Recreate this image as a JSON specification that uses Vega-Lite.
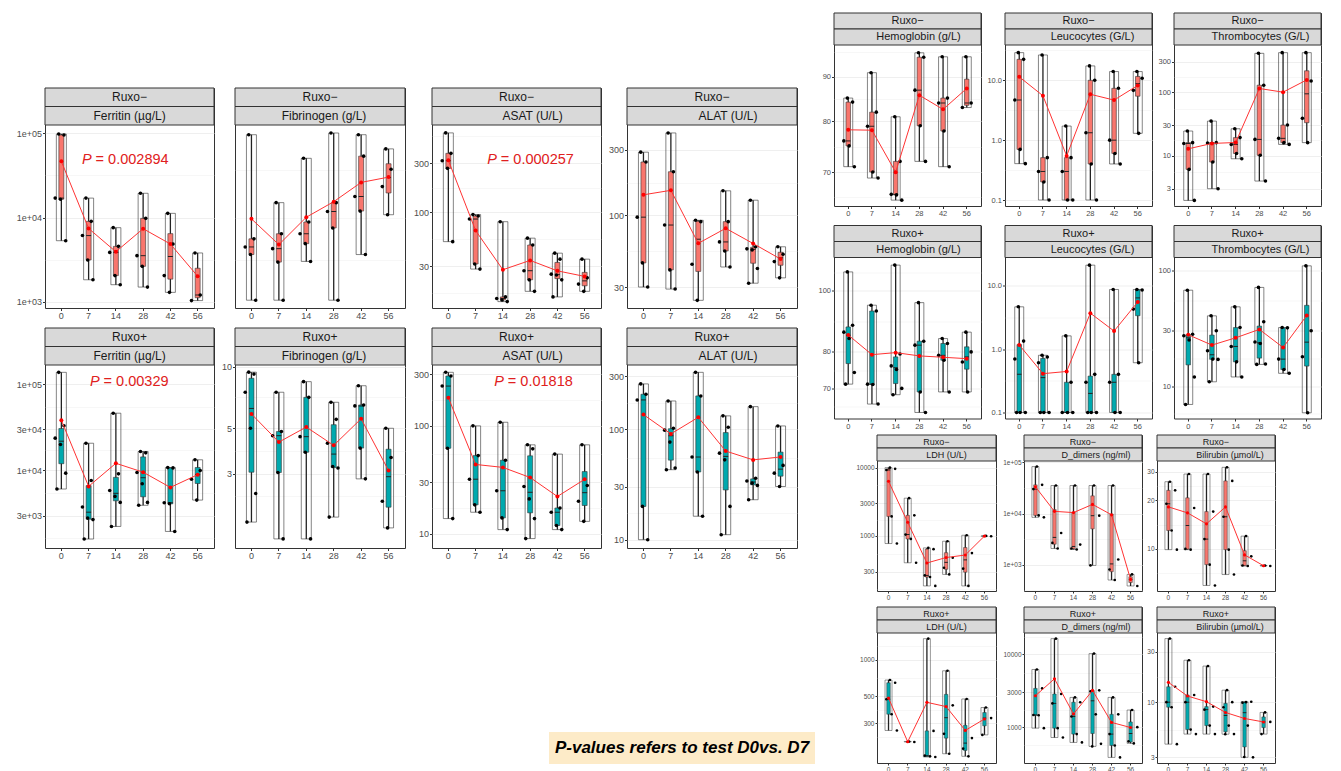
{
"$schema":"https://vega.github.io/schema/vega-lite/v6.json",
"padding":{"left":0,"top":12,"right":0,"bottom":0},
"background":"white",
"config":{
"font":"Liberation Sans",
"view":{"stroke":"#333333","strokeWidth":1},
"axis":{"gridColor":"#EBEBEB","gridWidth":0.8,"domain":false,"tickColor":"#333333","tickSize":2.5,"labelColor":"#4D4D4D","labelFontSize":9,"labelPadding":1,"bandPosition":0.5},
"axisX":{"labelAngle":0},
"rule":{"color":"#222222","strokeWidth":1.3},
"tick":{"color":"#222222","thickness":1},
"circle":{"color":"#000000","size":13,"opacity":1},
"point":{"filled":true,"color":"#FF0000","size":16,"opacity":1},
"line":{"color":"#FF3333","strokeWidth":1},
"rect":{"color":"#D9D9D9","stroke":"#333333","strokeWidth":1},
"text":{"color":"#1A1A1A","fontSize":12}
},
"datasets":{
"a1":[{"d":0,"v":98000},{"d":0,"v":95500},{"d":0,"v":17000},{"d":0,"v":16500},{"d":0,"v":5300},{"d":7,"v":17000},{"d":7,"v":9000},{"d":7,"v":6100},{"d":7,"v":3130},{"d":7,"v":1820},{"d":14,"v":7570},{"d":14,"v":4540},{"d":14,"v":3850},{"d":14,"v":2040},{"d":14,"v":1590},{"d":28,"v":19400},{"d":28,"v":9770},{"d":28,"v":3520},{"d":28,"v":2630},{"d":28,"v":1490},{"d":42,"v":11200},{"d":42,"v":4840},{"d":42,"v":2040},{"d":42,"v":1290},{"d":56,"v":3790},{"d":56,"v":1200},{"d":56,"v":1030}],
"a2":[{"d":0,"v":5.43},{"d":0,"v":2.0},{"d":0,"v":1.85},{"d":0,"v":1.72},{"d":0,"v":1.11},{"d":7,"v":2.83},{"d":7,"v":2.1},{"d":7,"v":1.82},{"d":7,"v":1.6},{"d":7,"v":1.11},{"d":14,"v":4.33},{"d":14,"v":2.35},{"d":14,"v":2.1},{"d":14,"v":1.91},{"d":14,"v":1.61},{"d":28,"v":5.52},{"d":28,"v":2.83},{"d":28,"v":2.6},{"d":28,"v":2.22},{"d":28,"v":1.11},{"d":42,"v":5.43},{"d":42,"v":4.42},{"d":42,"v":3.0},{"d":42,"v":2.61},{"d":42,"v":1.72},{"d":56,"v":4.74},{"d":56,"v":3.9},{"d":56,"v":3.3},{"d":56,"v":2.52}],
"a3":[{"d":0,"v":593},{"d":0,"v":375},{"d":0,"v":318},{"d":0,"v":268},{"d":0,"v":51.8},{"d":7,"v":95},{"d":7,"v":92},{"d":7,"v":86},{"d":7,"v":31.4},{"d":7,"v":28},{"d":14,"v":81},{"d":14,"v":15},{"d":14,"v":14.5},{"d":14,"v":14},{"d":14,"v":13.5},{"d":28,"v":56},{"d":28,"v":48},{"d":28,"v":27},{"d":28,"v":22},{"d":28,"v":17},{"d":42,"v":40},{"d":42,"v":35},{"d":42,"v":25},{"d":42,"v":24.5},{"d":42,"v":22},{"d":42,"v":15},{"d":56,"v":35},{"d":56,"v":23},{"d":56,"v":20},{"d":56,"v":17}],
"a4":[{"d":0,"v":289},{"d":0,"v":245},{"d":0,"v":97},{"d":0,"v":45},{"d":0,"v":30},{"d":7,"v":399},{"d":7,"v":208},{"d":7,"v":85},{"d":7,"v":40},{"d":7,"v":29},{"d":14,"v":92},{"d":14,"v":90},{"d":14,"v":44},{"d":14,"v":24},{"d":28,"v":151},{"d":28,"v":90},{"d":28,"v":64},{"d":28,"v":55},{"d":28,"v":42},{"d":42,"v":129},{"d":42,"v":59},{"d":42,"v":57},{"d":42,"v":56},{"d":42,"v":41},{"d":42,"v":32},{"d":56,"v":59},{"d":56,"v":52},{"d":56,"v":46},{"d":56,"v":35}],
"b1":[{"d":0,"v":137700},{"d":0,"v":33000},{"d":0,"v":23700},{"d":0,"v":20000},{"d":0,"v":9300},{"d":0,"v":6090},{"d":7,"v":20700},{"d":7,"v":7650},{"d":7,"v":3760},{"d":7,"v":2800},{"d":7,"v":2690},{"d":7,"v":1600},{"d":14,"v":46200},{"d":14,"v":9140},{"d":14,"v":5860},{"d":14,"v":5000},{"d":14,"v":4260},{"d":14,"v":2240},{"d":28,"v":16600},{"d":28,"v":16000},{"d":28,"v":9480},{"d":28,"v":7000},{"d":28,"v":4260},{"d":28,"v":3940},{"d":42,"v":10800},{"d":42,"v":10700},{"d":42,"v":4220},{"d":42,"v":4100},{"d":42,"v":1960},{"d":56,"v":13300},{"d":56,"v":10000},{"d":56,"v":7900},{"d":56,"v":4530}],
"b2":[{"d":0,"v":9.4},{"d":0,"v":9.2},{"d":0,"v":7.5},{"d":0,"v":5.0},{"d":0,"v":2.4},{"d":0,"v":1.74},{"d":7,"v":7.5},{"d":7,"v":4.82},{"d":7,"v":4.6},{"d":7,"v":3.04},{"d":7,"v":1.44},{"d":14,"v":8.45},{"d":14,"v":7.08},{"d":14,"v":4.55},{"d":14,"v":3.82},{"d":14,"v":1.44},{"d":28,"v":6.7},{"d":28,"v":5.53},{"d":28,"v":4.23},{"d":28,"v":3.25},{"d":28,"v":3.2},{"d":28,"v":1.84},{"d":42,"v":8.07},{"d":42,"v":6.5},{"d":42,"v":6.43},{"d":42,"v":4.0},{"d":42,"v":2.83},{"d":56,"v":5.0},{"d":56,"v":3.6},{"d":56,"v":2.2},{"d":56,"v":1.63}],
"b3":[{"d":0,"v":314},{"d":0,"v":290},{"d":0,"v":234},{"d":0,"v":62},{"d":0,"v":13.8},{"d":7,"v":100},{"d":7,"v":53},{"d":7,"v":32},{"d":7,"v":18.5},{"d":7,"v":15.8},{"d":14,"v":108},{"d":14,"v":48},{"d":14,"v":25},{"d":14,"v":14},{"d":14,"v":10.9},{"d":28,"v":66.7},{"d":28,"v":61.2},{"d":28,"v":27.4},{"d":28,"v":21},{"d":28,"v":13.8},{"d":28,"v":9},{"d":42,"v":54.7},{"d":42,"v":17.3},{"d":42,"v":15.8},{"d":42,"v":11.9},{"d":42,"v":10.9},{"d":56,"v":66.7},{"d":56,"v":28},{"d":56,"v":20},{"d":56,"v":13}],
"b4":[{"d":0,"v":257},{"d":0,"v":207},{"d":0,"v":184},{"d":0,"v":20},{"d":0,"v":10},{"d":7,"v":180},{"d":7,"v":102},{"d":7,"v":98},{"d":7,"v":76.4},{"d":7,"v":44.5},{"d":7,"v":43},{"d":14,"v":327},{"d":14,"v":200},{"d":14,"v":56},{"d":14,"v":41},{"d":14,"v":16.3},{"d":28,"v":132},{"d":28,"v":104},{"d":28,"v":60.7},{"d":28,"v":52.8},{"d":28,"v":20},{"d":28,"v":11.1},{"d":42,"v":160},{"d":42,"v":36},{"d":42,"v":34},{"d":42,"v":32.5},{"d":42,"v":31},{"d":42,"v":23},{"d":56,"v":107},{"d":56,"v":47},{"d":56,"v":40},{"d":56,"v":30.3}],
"c1":[{"d":0,"v":85.1},{"d":0,"v":84.2},{"d":0,"v":76},{"d":0,"v":75},{"d":0,"v":71},{"d":7,"v":91},{"d":7,"v":82},{"d":7,"v":79},{"d":7,"v":70},{"d":7,"v":68.9},{"d":14,"v":81},{"d":14,"v":72},{"d":14,"v":66},{"d":14,"v":65.9},{"d":14,"v":65},{"d":28,"v":95.9},{"d":28,"v":94.8},{"d":28,"v":86.9},{"d":28,"v":79.1},{"d":28,"v":72},{"d":42,"v":94.9},{"d":42,"v":85.1},{"d":42,"v":84},{"d":42,"v":78},{"d":42,"v":71},{"d":56,"v":94.9},{"d":56,"v":84},{"d":56,"v":83}],
"c2":[{"d":0,"v":29},{"d":0,"v":22.4},{"d":0,"v":4.69},{"d":0,"v":0.7},{"d":0,"v":0.405},{"d":7,"v":26.5},{"d":7,"v":0.51},{"d":7,"v":0.3},{"d":7,"v":0.2},{"d":7,"v":0.1},{"d":14,"v":1.72},{"d":14,"v":0.51},{"d":14,"v":0.3},{"d":14,"v":0.1},{"d":14,"v":0.1},{"d":28,"v":17.4},{"d":28,"v":10},{"d":28,"v":1.33},{"d":28,"v":0.4},{"d":28,"v":0.1},{"d":42,"v":14},{"d":42,"v":7.35},{"d":42,"v":1.0},{"d":42,"v":0.6},{"d":42,"v":0.4},{"d":56,"v":14},{"d":56,"v":10.8},{"d":56,"v":6.8},{"d":56,"v":1.3}],
"c3":[{"d":0,"v":24.4},{"d":0,"v":16},{"d":0,"v":15.5},{"d":0,"v":6.05},{"d":0,"v":1.96},{"d":7,"v":35},{"d":7,"v":16},{"d":7,"v":15.8},{"d":7,"v":7.9},{"d":7,"v":3},{"d":14,"v":26.5},{"d":14,"v":19.2},{"d":14,"v":15},{"d":14,"v":10.8},{"d":14,"v":8.9},{"d":28,"v":411},{"d":28,"v":129},{"d":28,"v":18},{"d":28,"v":10.1},{"d":28,"v":3.96},{"d":42,"v":421},{"d":42,"v":30.3},{"d":42,"v":18.7},{"d":42,"v":16},{"d":42,"v":15},{"d":56,"v":421},{"d":56,"v":150},{"d":56,"v":38.7},{"d":56,"v":16}],
"d1":[{"d":0,"v":107.2},{"d":0,"v":88.2},{"d":0,"v":86},{"d":0,"v":84},{"d":0,"v":74.2},{"d":0,"v":71.1},{"d":7,"v":94.9},{"d":7,"v":92.9},{"d":7,"v":71.1},{"d":7,"v":71},{"d":7,"v":66.1},{"d":14,"v":109.9},{"d":14,"v":79.4},{"d":14,"v":76},{"d":14,"v":75},{"d":14,"v":70},{"d":14,"v":68.4},{"d":28,"v":95.8},{"d":28,"v":83.2},{"d":28,"v":82},{"d":28,"v":69.1},{"d":28,"v":64.1},{"d":42,"v":84},{"d":42,"v":82.5},{"d":42,"v":79},{"d":42,"v":77.6},{"d":42,"v":69.1},{"d":56,"v":86},{"d":56,"v":80},{"d":56,"v":77.1},{"d":56,"v":69.1}],
"d2":[{"d":0,"v":4.66},{"d":0,"v":1.34},{"d":0,"v":0.7},{"d":0,"v":0.1},{"d":0,"v":0.1},{"d":0,"v":0.1},{"d":7,"v":0.8},{"d":7,"v":0.75},{"d":7,"v":0.61},{"d":7,"v":0.1},{"d":7,"v":0.1},{"d":7,"v":0.1},{"d":14,"v":1.62},{"d":14,"v":0.3},{"d":14,"v":0.1},{"d":14,"v":0.1},{"d":14,"v":0.1},{"d":28,"v":21.2},{"d":28,"v":0.4},{"d":28,"v":0.3},{"d":28,"v":0.1},{"d":28,"v":0.1},{"d":28,"v":0.1},{"d":42,"v":8.75},{"d":42,"v":0.4},{"d":42,"v":0.3},{"d":42,"v":0.1},{"d":42,"v":0.1},{"d":56,"v":8.75},{"d":56,"v":8.6},{"d":56,"v":4.29},{"d":56,"v":0.61}],
"d3":[{"d":0,"v":67.2},{"d":0,"v":28},{"d":0,"v":27.2},{"d":0,"v":25},{"d":0,"v":12},{"d":0,"v":6.95},{"d":7,"v":40.4},{"d":7,"v":30},{"d":7,"v":20.2},{"d":7,"v":17.1},{"d":7,"v":17},{"d":7,"v":10.9},{"d":14,"v":48.3},{"d":14,"v":32},{"d":14,"v":22},{"d":14,"v":16.2},{"d":14,"v":12},{"d":28,"v":71},{"d":28,"v":35.9},{"d":28,"v":24},{"d":28,"v":23.3},{"d":28,"v":15.5},{"d":28,"v":15.4},{"d":42,"v":32},{"d":42,"v":31.8},{"d":42,"v":17.1},{"d":42,"v":13.9},{"d":42,"v":12.9},{"d":56,"v":109},{"d":56,"v":30},{"d":56,"v":17.9},{"d":56,"v":5.89}],
"e1":[{"d":0,"v":10000},{"d":0,"v":9600},{"d":0,"v":9250},{"d":0,"v":1930},{"d":0,"v":773},{"d":7,"v":3570},{"d":7,"v":2000},{"d":7,"v":1045},{"d":7,"v":903},{"d":7,"v":404},{"d":14,"v":668},{"d":14,"v":640},{"d":14,"v":264},{"d":14,"v":250},{"d":14,"v":185},{"d":28,"v":836},{"d":28,"v":478},{"d":28,"v":342},{"d":28,"v":273},{"d":42,"v":1023},{"d":42,"v":560},{"d":42,"v":331},{"d":42,"v":185},{"d":56,"v":1000},{"d":56,"v":990}],
"e2":[{"d":0,"v":82400},{"d":0,"v":36300},{"d":0,"v":30000},{"d":0,"v":9200},{"d":0,"v":8420},{"d":7,"v":35200},{"d":7,"v":4180},{"d":7,"v":2670},{"d":7,"v":2080},{"d":14,"v":35200},{"d":14,"v":2480},{"d":14,"v":2080},{"d":14,"v":1990},{"d":28,"v":35200},{"d":28,"v":9080},{"d":28,"v":971},{"d":42,"v":35200},{"d":42,"v":1270},{"d":42,"v":811},{"d":42,"v":504},{"d":56,"v":649},{"d":56,"v":386}],
"e3":[{"d":0,"v":26},{"d":0,"v":23},{"d":0,"v":19},{"d":0,"v":13},{"d":0,"v":9.9},{"d":7,"v":29},{"d":7,"v":17.9},{"d":7,"v":10},{"d":7,"v":9.9},{"d":14,"v":29},{"d":14,"v":17},{"d":14,"v":11.5},{"d":14,"v":8},{"d":14,"v":5.95},{"d":28,"v":31.9},{"d":28,"v":26.3},{"d":28,"v":15.8},{"d":28,"v":9.9},{"d":28,"v":6.95},{"d":42,"v":12},{"d":42,"v":9},{"d":42,"v":7.9},{"d":42,"v":7.85},{"d":56,"v":7.9},{"d":56,"v":7.85}],
"f1":[{"d":0,"v":678},{"d":0,"v":644},{"d":0,"v":471},{"d":0,"v":355},{"d":0,"v":261},{"d":7,"v":212},{"d":7,"v":210},{"d":14,"v":1484},{"d":14,"v":259},{"d":14,"v":162},{"d":14,"v":160},{"d":14,"v":158},{"d":28,"v":808},{"d":28,"v":420},{"d":28,"v":245},{"d":28,"v":168},{"d":42,"v":474},{"d":42,"v":226},{"d":42,"v":185},{"d":42,"v":160},{"d":56,"v":403},{"d":56,"v":330},{"d":56,"v":240}],
"f2":[{"d":0,"v":6180},{"d":0,"v":3400},{"d":0,"v":1470},{"d":0,"v":1460},{"d":0,"v":969},{"d":7,"v":16360},{"d":7,"v":2850},{"d":7,"v":2120},{"d":7,"v":969},{"d":7,"v":722},{"d":14,"v":2560},{"d":14,"v":2200},{"d":14,"v":1400},{"d":14,"v":804},{"d":14,"v":618},{"d":28,"v":10200},{"d":28,"v":3200},{"d":28,"v":3100},{"d":28,"v":1500},{"d":28,"v":592},{"d":28,"v":545},{"d":42,"v":2560},{"d":42,"v":1500},{"d":42,"v":804},{"d":42,"v":562},{"d":42,"v":385},{"d":56,"v":1720},{"d":56,"v":1000},{"d":56,"v":638},{"d":56,"v":600}],
"f3":[{"d":0,"v":40.1},{"d":0,"v":14},{"d":0,"v":10},{"d":0,"v":8.96},{"d":0,"v":4},{"d":7,"v":25},{"d":7,"v":11.7},{"d":7,"v":10},{"d":7,"v":5.5},{"d":7,"v":4.98},{"d":14,"v":22},{"d":14,"v":9.08},{"d":14,"v":8.5},{"d":14,"v":6},{"d":14,"v":4.98},{"d":28,"v":13},{"d":28,"v":10},{"d":28,"v":8.96},{"d":28,"v":6},{"d":28,"v":4.98},{"d":28,"v":4.97},{"d":42,"v":10},{"d":42,"v":10.1},{"d":42,"v":9.9},{"d":42,"v":6},{"d":42,"v":3},{"d":42,"v":3.02},{"d":56,"v":8},{"d":56,"v":6.5},{"d":56,"v":4.98}]
},
"spacing":0,
"hconcat":[
{"spacing":0,"vconcat":[
{"width":1,"height":73.5,"data":{"values":[]},"mark":"point","view":{"stroke":null}},
{"columns":8,"align":"each","bounds":"flush","spacing":{"row":20,"column":0},"concat":[
{"width":45,"height":1,"data":{"values":[]},"mark":"point","view":{"stroke":null}},
{"width":169,"height":220,"resolve":{"scale":{"y":"independent"}},"layer":[
{"data":{"name":"a1"},"encoding":{"x":{"field":"d","type":"ordinal","title":null,"scale":{"domain":[0,7,14,28,42,56],"paddingInner":0,"paddingOuter":0.1}}},"layer":[
{"mark":{"type":"bar","size":10,"fill":"transparent","stroke":"#333333","strokeWidth":0.6},"encoding":{"y":{"aggregate":"min","field":"v","type":"quantitative","title":null,"scale":{"type":"log","domain":[841,125600],"nice":false,"range":[220,37]},"axis":{"values":[1000,3162,10000,31623,100000],"labelExpr":"replace(format(datum.value,'.0e'),'e+','e+0')","gridWidth":{"condition":{"test":"datum.value!=toNumber(format(datum.value,'.2r'))","value":0.4},"value":0.8},"tickOpacity":{"condition":{"test":"datum.value!=toNumber(format(datum.value,'.2r'))","value":0},"value":1},"labelOpacity":{"condition":{"test":"datum.value!=toNumber(format(datum.value,'.2r'))","value":0},"value":1},"labelOverlap":false}},"y2":{"aggregate":"max","field":"v"}}},
{"mark":"rule","encoding":{"y":{"aggregate":"min","field":"v","type":"quantitative","title":null},"y2":{"aggregate":"max","field":"v"}}},
{"mark":{"type":"bar","size":5,"fill":"#F8766D","stroke":"#333333","strokeWidth":0.6},"encoding":{"y":{"aggregate":"q1","field":"v","type":"quantitative","title":null},"y2":{"aggregate":"q3","field":"v"}}},
{"mark":{"type":"tick","size":5},"encoding":{"y":{"aggregate":"median","field":"v","type":"quantitative","title":null}}},
{"transform":[{"window":[{"op":"row_number","as":"i"}],"groupby":["d"]}],"mark":"circle","encoding":{"xOffset":{"field":"i","type":"nominal","scale":{"domain":[3,6,1,4,7,2,5,8],"range":[6.6,20.6]}},"y":{"field":"v","type":"quantitative","title":null}}},
{"mark":"line","encoding":{"y":{"aggregate":"mean","field":"v","type":"quantitative","title":null}}},
{"mark":"point","encoding":{"y":{"aggregate":"mean","field":"v","type":"quantitative","title":null}}},
{"data":{"values":[{"d":7,"v":48000}]},"mark":{"type":"text","text":"P","fontStyle":"italic","align":"right","dx":3,"fontSize":14.5,"color":"#E02020"},"encoding":{"y":{"field":"v","type":"quantitative","title":null}}},
{"data":{"values":[{"d":7,"v":48000}]},"mark":{"type":"text","text":"= 0.002894","align":"left","dx":7,"fontSize":14.5,"color":"#E02020"},"encoding":{"y":{"field":"v","type":"quantitative","title":null}}}
]},
{"data":{"values":[{"r":1,"s":"Ruxo−"},{"r":2,"s":"Ferritin (µg/L)"}]},"encoding":{"y":{"field":"r","type":"ordinal","axis":null,"scale":{"range":[0,37],"paddingInner":0,"paddingOuter":0}}},"layer":[{"mark":"rect"},{"mark":"text","encoding":{"text":{"field":"s"}}}]}
]},
{"width":21,"height":1,"data":{"values":[]},"mark":"point","view":{"stroke":null}},
{"width":170,"height":220,"resolve":{"scale":{"y":"independent"}},"layer":[
{"data":{"name":"a2"},"encoding":{"x":{"field":"d","type":"ordinal","title":null,"scale":{"domain":[0,7,14,28,42,56],"paddingInner":0,"paddingOuter":0.1}}},"layer":[
{"mark":{"type":"bar","size":10,"fill":"transparent","stroke":"#333333","strokeWidth":0.6},"encoding":{"y":{"aggregate":"min","field":"v","type":"quantitative","title":null,"scale":{"type":"log","domain":[1.03,5.96],"nice":false,"range":[220,37]},"axis":{"values":[1.633,2,2.449,3,3.873,5],"format":"d","gridWidth":{"condition":{"test":"datum.value!=toNumber(format(datum.value,'.2r'))","value":0.4},"value":0.8},"tickOpacity":{"condition":{"test":"datum.value!=toNumber(format(datum.value,'.2r'))","value":0},"value":1},"labelOpacity":{"condition":{"test":"datum.value!=toNumber(format(datum.value,'.2r'))","value":0},"value":1},"labelOverlap":false}},"y2":{"aggregate":"max","field":"v"}}},
{"mark":"rule","encoding":{"y":{"aggregate":"min","field":"v","type":"quantitative","title":null},"y2":{"aggregate":"max","field":"v"}}},
{"mark":{"type":"bar","size":5,"fill":"#F8766D","stroke":"#333333","strokeWidth":0.6},"encoding":{"y":{"aggregate":"q1","field":"v","type":"quantitative","title":null},"y2":{"aggregate":"q3","field":"v"}}},
{"mark":{"type":"tick","size":5},"encoding":{"y":{"aggregate":"median","field":"v","type":"quantitative","title":null}}},
{"transform":[{"window":[{"op":"row_number","as":"i"}],"groupby":["d"]}],"mark":"circle","encoding":{"xOffset":{"field":"i","type":"nominal","scale":{"domain":[3,6,1,4,7,2,5,8],"range":[6.6,20.6]}},"y":{"field":"v","type":"quantitative","title":null}}},
{"mark":"line","encoding":{"y":{"aggregate":"mean","field":"v","type":"quantitative","title":null}}},
{"mark":"point","encoding":{"y":{"aggregate":"mean","field":"v","type":"quantitative","title":null}}}
]},
{"data":{"values":[{"r":1,"s":"Ruxo−"},{"r":2,"s":"Fibrinogen (g/L)"}]},"encoding":{"y":{"field":"r","type":"ordinal","axis":null,"scale":{"range":[0,37],"paddingInner":0,"paddingOuter":0}}},"layer":[{"mark":"rect"},{"transform":[{"filter":"datum.r==1"}],"mark":"text","encoding":{"text":{"field":"s"}}},{"transform":[{"filter":"datum.r==2"}],"mark":{"type":"text","dx":4},"encoding":{"text":{"field":"s"}}}]}
]},
{"width":27,"height":1,"data":{"values":[]},"mark":"point","view":{"stroke":null}},
{"width":169,"height":220,"resolve":{"scale":{"y":"independent"}},"layer":[
{"data":{"name":"a3"},"encoding":{"x":{"field":"d","type":"ordinal","title":null,"scale":{"domain":[0,7,14,28,42,56],"paddingInner":0,"paddingOuter":0.1}}},"layer":[
{"mark":{"type":"bar","size":10,"fill":"transparent","stroke":"#333333","strokeWidth":0.6},"encoding":{"y":{"aggregate":"min","field":"v","type":"quantitative","title":null,"scale":{"type":"log","domain":[11.7,708],"nice":false,"range":[220,37]},"axis":{"values":[16.43,30,54.77,100,173.2,300,547.7],"format":"d","gridWidth":{"condition":{"test":"datum.value!=toNumber(format(datum.value,'.2r'))","value":0.4},"value":0.8},"tickOpacity":{"condition":{"test":"datum.value!=toNumber(format(datum.value,'.2r'))","value":0},"value":1},"labelOpacity":{"condition":{"test":"datum.value!=toNumber(format(datum.value,'.2r'))","value":0},"value":1},"labelOverlap":false}},"y2":{"aggregate":"max","field":"v"}}},
{"mark":"rule","encoding":{"y":{"aggregate":"min","field":"v","type":"quantitative","title":null},"y2":{"aggregate":"max","field":"v"}}},
{"mark":{"type":"bar","size":5,"fill":"#F8766D","stroke":"#333333","strokeWidth":0.6},"encoding":{"y":{"aggregate":"q1","field":"v","type":"quantitative","title":null},"y2":{"aggregate":"q3","field":"v"}}},
{"mark":{"type":"tick","size":5},"encoding":{"y":{"aggregate":"median","field":"v","type":"quantitative","title":null}}},
{"transform":[{"window":[{"op":"row_number","as":"i"}],"groupby":["d"]}],"mark":"circle","encoding":{"xOffset":{"field":"i","type":"nominal","scale":{"domain":[3,6,1,4,7,2,5,8],"range":[6.6,20.6]}},"y":{"field":"v","type":"quantitative","title":null}}},
{"mark":"line","encoding":{"y":{"aggregate":"mean","field":"v","type":"quantitative","title":null}}},
{"mark":"point","encoding":{"y":{"aggregate":"mean","field":"v","type":"quantitative","title":null}}},
{"data":{"values":[{"d":14,"v":326}]},"mark":{"type":"text","text":"P","fontStyle":"italic","align":"right","dx":-6,"fontSize":14.5,"color":"#E02020"},"encoding":{"y":{"field":"v","type":"quantitative","title":null}}},
{"data":{"values":[{"d":14,"v":326}]},"mark":{"type":"text","text":"= 0.000257","align":"left","dx":-2,"fontSize":14.5,"color":"#E02020"},"encoding":{"y":{"field":"v","type":"quantitative","title":null}}}
]},
{"data":{"values":[{"r":1,"s":"Ruxo−"},{"r":2,"s":"ASAT (U/L)"}]},"encoding":{"y":{"field":"r","type":"ordinal","axis":null,"scale":{"range":[0,37],"paddingInner":0,"paddingOuter":0}}},"layer":[{"mark":"rect"},{"transform":[{"filter":"datum.r==1"}],"mark":"text","encoding":{"text":{"field":"s"}}},{"transform":[{"filter":"datum.r==2"}],"mark":{"type":"text","dx":16},"encoding":{"text":{"field":"s"}}}]}
]},
{"width":26,"height":1,"data":{"values":[]},"mark":"point","view":{"stroke":null}},
{"width":170,"height":220,"resolve":{"scale":{"y":"independent"}},"layer":[
{"data":{"name":"a4"},"encoding":{"x":{"field":"d","type":"ordinal","title":null,"scale":{"domain":[0,7,14,28,42,56],"paddingInner":0,"paddingOuter":0.1}}},"layer":[
{"mark":{"type":"bar","size":10,"fill":"transparent","stroke":"#333333","strokeWidth":0.6},"encoding":{"y":{"aggregate":"min","field":"v","type":"quantitative","title":null,"scale":{"type":"log","domain":[21.1,456],"nice":false,"range":[220,37]},"axis":{"values":[30,54.77,100,173.2,300],"format":"d","gridWidth":{"condition":{"test":"datum.value!=toNumber(format(datum.value,'.2r'))","value":0.4},"value":0.8},"tickOpacity":{"condition":{"test":"datum.value!=toNumber(format(datum.value,'.2r'))","value":0},"value":1},"labelOpacity":{"condition":{"test":"datum.value!=toNumber(format(datum.value,'.2r'))","value":0},"value":1},"labelOverlap":false}},"y2":{"aggregate":"max","field":"v"}}},
{"mark":"rule","encoding":{"y":{"aggregate":"min","field":"v","type":"quantitative","title":null},"y2":{"aggregate":"max","field":"v"}}},
{"mark":{"type":"bar","size":5,"fill":"#F8766D","stroke":"#333333","strokeWidth":0.6},"encoding":{"y":{"aggregate":"q1","field":"v","type":"quantitative","title":null},"y2":{"aggregate":"q3","field":"v"}}},
{"mark":{"type":"tick","size":5},"encoding":{"y":{"aggregate":"median","field":"v","type":"quantitative","title":null}}},
{"transform":[{"window":[{"op":"row_number","as":"i"}],"groupby":["d"]}],"mark":"circle","encoding":{"xOffset":{"field":"i","type":"nominal","scale":{"domain":[3,6,1,4,7,2,5,8],"range":[6.6,20.6]}},"y":{"field":"v","type":"quantitative","title":null}}},
{"mark":"line","encoding":{"y":{"aggregate":"mean","field":"v","type":"quantitative","title":null}}},
{"mark":"point","encoding":{"y":{"aggregate":"mean","field":"v","type":"quantitative","title":null}}}
]},
{"data":{"values":[{"r":1,"s":"Ruxo−"},{"r":2,"s":"ALAT (U/L)"}]},"encoding":{"y":{"field":"r","type":"ordinal","axis":null,"scale":{"range":[0,37],"paddingInner":0,"paddingOuter":0}}},"layer":[{"mark":"rect"},{"transform":[{"filter":"datum.r==1"}],"mark":"text","encoding":{"text":{"field":"s"}}},{"transform":[{"filter":"datum.r==2"}],"mark":{"type":"text","dx":16},"encoding":{"text":{"field":"s"}}}]}
]},
{"width":45,"height":1,"data":{"values":[]},"mark":"point","view":{"stroke":null}},
{"width":169,"height":220,"resolve":{"scale":{"y":"independent"}},"layer":[
{"data":{"name":"b1"},"encoding":{"x":{"field":"d","type":"ordinal","title":null,"scale":{"domain":[0,7,14,28,42,56],"paddingInner":0,"paddingOuter":0.1}}},"layer":[
{"mark":{"type":"bar","size":10,"fill":"transparent","stroke":"#333333","strokeWidth":0.6},"encoding":{"y":{"aggregate":"min","field":"v","type":"quantitative","title":null,"scale":{"type":"log","domain":[1259,167500],"nice":false,"range":[220,37]},"axis":{"values":[1643,3000,5477,10000,17320,30000,54772,100000],"labelExpr":"replace(format(datum.value,'.0e'),'e+','e+0')","gridWidth":{"condition":{"test":"datum.value!=toNumber(format(datum.value,'.2r'))","value":0.4},"value":0.8},"tickOpacity":{"condition":{"test":"datum.value!=toNumber(format(datum.value,'.2r'))","value":0},"value":1},"labelOpacity":{"condition":{"test":"datum.value!=toNumber(format(datum.value,'.2r'))","value":0},"value":1},"labelOverlap":false}},"y2":{"aggregate":"max","field":"v"}}},
{"mark":"rule","encoding":{"y":{"aggregate":"min","field":"v","type":"quantitative","title":null},"y2":{"aggregate":"max","field":"v"}}},
{"mark":{"type":"bar","size":5,"fill":"#00A9AE","stroke":"#333333","strokeWidth":0.6},"encoding":{"y":{"aggregate":"q1","field":"v","type":"quantitative","title":null},"y2":{"aggregate":"q3","field":"v"}}},
{"mark":{"type":"tick","size":5},"encoding":{"y":{"aggregate":"median","field":"v","type":"quantitative","title":null}}},
{"transform":[{"window":[{"op":"row_number","as":"i"}],"groupby":["d"]}],"mark":"circle","encoding":{"xOffset":{"field":"i","type":"nominal","scale":{"domain":[3,6,1,4,7,2,5,8],"range":[6.6,20.6]}},"y":{"field":"v","type":"quantitative","title":null}}},
{"mark":"line","encoding":{"y":{"aggregate":"mean","field":"v","type":"quantitative","title":null}}},
{"mark":"point","encoding":{"y":{"aggregate":"mean","field":"v","type":"quantitative","title":null}}},
{"data":{"values":[{"d":7,"v":107400}]},"mark":{"type":"text","text":"P","fontStyle":"italic","align":"right","dx":11,"fontSize":14.5,"color":"#E02020"},"encoding":{"y":{"field":"v","type":"quantitative","title":null}}},
{"data":{"values":[{"d":7,"v":107400}]},"mark":{"type":"text","text":"= 0.00329","align":"left","dx":15,"fontSize":14.5,"color":"#E02020"},"encoding":{"y":{"field":"v","type":"quantitative","title":null}}}
]},
{"data":{"values":[{"r":1,"s":"Ruxo+"},{"r":2,"s":"Ferritin (µg/L)"}]},"encoding":{"y":{"field":"r","type":"ordinal","axis":null,"scale":{"range":[0,37],"paddingInner":0,"paddingOuter":0}}},"layer":[{"mark":"rect"},{"mark":"text","encoding":{"text":{"field":"s"}}}]}
]},
{"width":21,"height":1,"data":{"values":[]},"mark":"point","view":{"stroke":null}},
{"width":170,"height":220,"resolve":{"scale":{"y":"independent"}},"layer":[
{"data":{"name":"b2"},"encoding":{"x":{"field":"d","type":"ordinal","title":null,"scale":{"domain":[0,7,14,28,42,56],"paddingInner":0,"paddingOuter":0.1}}},"layer":[
{"mark":{"type":"bar","size":10,"fill":"transparent","stroke":"#333333","strokeWidth":0.6},"encoding":{"y":{"aggregate":"min","field":"v","type":"quantitative","title":null,"scale":{"type":"log","domain":[1.3,10.19],"nice":false,"range":[220,37]},"axis":{"values":[2.323,3,3.873,5,7.071,10],"format":"d","gridWidth":{"condition":{"test":"datum.value!=toNumber(format(datum.value,'.2r'))","value":0.4},"value":0.8},"tickOpacity":{"condition":{"test":"datum.value!=toNumber(format(datum.value,'.2r'))","value":0},"value":1},"labelOpacity":{"condition":{"test":"datum.value!=toNumber(format(datum.value,'.2r'))","value":0},"value":1},"labelOverlap":false}},"y2":{"aggregate":"max","field":"v"}}},
{"mark":"rule","encoding":{"y":{"aggregate":"min","field":"v","type":"quantitative","title":null},"y2":{"aggregate":"max","field":"v"}}},
{"mark":{"type":"bar","size":5,"fill":"#00A9AE","stroke":"#333333","strokeWidth":0.6},"encoding":{"y":{"aggregate":"q1","field":"v","type":"quantitative","title":null},"y2":{"aggregate":"q3","field":"v"}}},
{"mark":{"type":"tick","size":5},"encoding":{"y":{"aggregate":"median","field":"v","type":"quantitative","title":null}}},
{"transform":[{"window":[{"op":"row_number","as":"i"}],"groupby":["d"]}],"mark":"circle","encoding":{"xOffset":{"field":"i","type":"nominal","scale":{"domain":[3,6,1,4,7,2,5,8],"range":[6.6,20.6]}},"y":{"field":"v","type":"quantitative","title":null}}},
{"mark":"line","encoding":{"y":{"aggregate":"mean","field":"v","type":"quantitative","title":null}}},
{"mark":"point","encoding":{"y":{"aggregate":"mean","field":"v","type":"quantitative","title":null}}}
]},
{"data":{"values":[{"r":1,"s":"Ruxo+"},{"r":2,"s":"Fibrinogen (g/L)"}]},"encoding":{"y":{"field":"r","type":"ordinal","axis":null,"scale":{"range":[0,37],"paddingInner":0,"paddingOuter":0}}},"layer":[{"mark":"rect"},{"transform":[{"filter":"datum.r==1"}],"mark":"text","encoding":{"text":{"field":"s"}}},{"transform":[{"filter":"datum.r==2"}],"mark":{"type":"text","dx":4},"encoding":{"text":{"field":"s"}}}]}
]},
{"width":27,"height":1,"data":{"values":[]},"mark":"point","view":{"stroke":null}},
{"width":169,"height":220,"resolve":{"scale":{"y":"independent"}},"layer":[
{"data":{"name":"b3"},"encoding":{"x":{"field":"d","type":"ordinal","title":null,"scale":{"domain":[0,7,14,28,42,56],"paddingInner":0,"paddingOuter":0.1}}},"layer":[
{"mark":{"type":"bar","size":10,"fill":"transparent","stroke":"#333333","strokeWidth":0.6},"encoding":{"y":{"aggregate":"min","field":"v","type":"quantitative","title":null,"scale":{"type":"log","domain":[7.36,367],"nice":false,"range":[220,37]},"axis":{"values":[10,17.32,30,54.77,100,173.2,300],"format":"d","gridWidth":{"condition":{"test":"datum.value!=toNumber(format(datum.value,'.2r'))","value":0.4},"value":0.8},"tickOpacity":{"condition":{"test":"datum.value!=toNumber(format(datum.value,'.2r'))","value":0},"value":1},"labelOpacity":{"condition":{"test":"datum.value!=toNumber(format(datum.value,'.2r'))","value":0},"value":1},"labelOverlap":false}},"y2":{"aggregate":"max","field":"v"}}},
{"mark":"rule","encoding":{"y":{"aggregate":"min","field":"v","type":"quantitative","title":null},"y2":{"aggregate":"max","field":"v"}}},
{"mark":{"type":"bar","size":5,"fill":"#00A9AE","stroke":"#333333","strokeWidth":0.6},"encoding":{"y":{"aggregate":"q1","field":"v","type":"quantitative","title":null},"y2":{"aggregate":"q3","field":"v"}}},
{"mark":{"type":"tick","size":5},"encoding":{"y":{"aggregate":"median","field":"v","type":"quantitative","title":null}}},
{"transform":[{"window":[{"op":"row_number","as":"i"}],"groupby":["d"]}],"mark":"circle","encoding":{"xOffset":{"field":"i","type":"nominal","scale":{"domain":[3,6,1,4,7,2,5,8],"range":[6.6,20.6]}},"y":{"field":"v","type":"quantitative","title":null}}},
{"mark":"line","encoding":{"y":{"aggregate":"mean","field":"v","type":"quantitative","title":null}}},
{"mark":"point","encoding":{"y":{"aggregate":"mean","field":"v","type":"quantitative","title":null}}},
{"data":{"values":[{"d":14,"v":254}]},"mark":{"type":"text","text":"P","fontStyle":"italic","align":"right","dx":1,"fontSize":14.5,"color":"#E02020"},"encoding":{"y":{"field":"v","type":"quantitative","title":null}}},
{"data":{"values":[{"d":14,"v":254}]},"mark":{"type":"text","text":"= 0.01818","align":"left","dx":5,"fontSize":14.5,"color":"#E02020"},"encoding":{"y":{"field":"v","type":"quantitative","title":null}}}
]},
{"data":{"values":[{"r":1,"s":"Ruxo+"},{"r":2,"s":"ASAT (U/L)"}]},"encoding":{"y":{"field":"r","type":"ordinal","axis":null,"scale":{"range":[0,37],"paddingInner":0,"paddingOuter":0}}},"layer":[{"mark":"rect"},{"transform":[{"filter":"datum.r==1"}],"mark":"text","encoding":{"text":{"field":"s"}}},{"transform":[{"filter":"datum.r==2"}],"mark":{"type":"text","dx":16},"encoding":{"text":{"field":"s"}}}]}
]},
{"width":26,"height":1,"data":{"values":[]},"mark":"point","view":{"stroke":null}},
{"width":170,"height":220,"resolve":{"scale":{"y":"independent"}},"layer":[
{"data":{"name":"b4"},"encoding":{"x":{"field":"d","type":"ordinal","title":null,"scale":{"domain":[0,7,14,28,42,56],"paddingInner":0,"paddingOuter":0.1}}},"layer":[
{"mark":{"type":"bar","size":10,"fill":"transparent","stroke":"#333333","strokeWidth":0.6},"encoding":{"y":{"aggregate":"min","field":"v","type":"quantitative","title":null,"scale":{"type":"log","domain":[8.41,381],"nice":false,"range":[220,37]},"axis":{"values":[10,17.32,30,54.77,100,173.2,300],"format":"d","gridWidth":{"condition":{"test":"datum.value!=toNumber(format(datum.value,'.2r'))","value":0.4},"value":0.8},"tickOpacity":{"condition":{"test":"datum.value!=toNumber(format(datum.value,'.2r'))","value":0},"value":1},"labelOpacity":{"condition":{"test":"datum.value!=toNumber(format(datum.value,'.2r'))","value":0},"value":1},"labelOverlap":false}},"y2":{"aggregate":"max","field":"v"}}},
{"mark":"rule","encoding":{"y":{"aggregate":"min","field":"v","type":"quantitative","title":null},"y2":{"aggregate":"max","field":"v"}}},
{"mark":{"type":"bar","size":5,"fill":"#00A9AE","stroke":"#333333","strokeWidth":0.6},"encoding":{"y":{"aggregate":"q1","field":"v","type":"quantitative","title":null},"y2":{"aggregate":"q3","field":"v"}}},
{"mark":{"type":"tick","size":5},"encoding":{"y":{"aggregate":"median","field":"v","type":"quantitative","title":null}}},
{"transform":[{"window":[{"op":"row_number","as":"i"}],"groupby":["d"]}],"mark":"circle","encoding":{"xOffset":{"field":"i","type":"nominal","scale":{"domain":[3,6,1,4,7,2,5,8],"range":[6.6,20.6]}},"y":{"field":"v","type":"quantitative","title":null}}},
{"mark":"line","encoding":{"y":{"aggregate":"mean","field":"v","type":"quantitative","title":null}}},
{"mark":"point","encoding":{"y":{"aggregate":"mean","field":"v","type":"quantitative","title":null}}}
]},
{"data":{"values":[{"r":1,"s":"Ruxo+"},{"r":2,"s":"ALAT (U/L)"}]},"encoding":{"y":{"field":"r","type":"ordinal","axis":null,"scale":{"range":[0,37],"paddingInner":0,"paddingOuter":0}}},"layer":[{"mark":"rect"},{"transform":[{"filter":"datum.r==1"}],"mark":"text","encoding":{"text":{"field":"s"}}},{"transform":[{"filter":"datum.r==2"}],"mark":{"type":"text","dx":16},"encoding":{"text":{"field":"s"}}}]}
]}
]},
{"width":1,"height":171,"data":{"values":[]},"mark":"point","view":{"stroke":null}},
{"spacing":0,"bounds":"flush","hconcat":[
{"width":549,"height":1,"data":{"values":[]},"mark":"point","view":{"stroke":null}},
{"width":266,"height":32,"data":{"values":[{}]},"view":{"fill":"#FDEBC8","stroke":null},"mark":{"type":"text","text":"P-values refers to test D0vs. D7","fontSize":17,"fontWeight":"bold","fontStyle":"italic","color":"#000000","align":"center","baseline":"middle"}}
]}
]},
{"spacing":4,"vconcat":[
{"columns":6,"align":"each","bounds":"flush","spacing":{"row":19.5,"column":0},"concat":[
{"width":19,"height":1,"data":{"values":[]},"mark":"point","view":{"stroke":null}},
{"width":147,"height":193,"resolve":{"scale":{"y":"independent"}},"layer":[
{"data":{"name":"c1"},"encoding":{"x":{"field":"d","type":"ordinal","title":null,"axis":{"labelFontSize":7.5},"scale":{"domain":[0,7,14,28,42,56],"paddingInner":0,"paddingOuter":0.1}}},"layer":[
{"mark":{"type":"bar","size":9,"fill":"transparent","stroke":"#333333","strokeWidth":0.6},"encoding":{"y":{"aggregate":"min","field":"v","type":"quantitative","title":null,"scale":{"type":"log","domain":[64,97.9],"nice":false,"range":[193,32]},"axis":{"values":[65.47,70,74.83,80,84.85,90,96.2],"format":"d","labelFontSize":7.5,"gridWidth":{"condition":{"test":"datum.value!=toNumber(format(datum.value,'.2r'))","value":0.4},"value":0.8},"tickOpacity":{"condition":{"test":"datum.value!=toNumber(format(datum.value,'.2r'))","value":0},"value":1},"labelOpacity":{"condition":{"test":"datum.value!=toNumber(format(datum.value,'.2r'))","value":0},"value":1},"labelOverlap":false}},"y2":{"aggregate":"max","field":"v"}}},
{"mark":"rule","encoding":{"y":{"aggregate":"min","field":"v","type":"quantitative","title":null},"y2":{"aggregate":"max","field":"v"}}},
{"mark":{"type":"bar","size":4.5,"fill":"#F8766D","stroke":"#333333","strokeWidth":0.6},"encoding":{"y":{"aggregate":"q1","field":"v","type":"quantitative","title":null},"y2":{"aggregate":"q3","field":"v"}}},
{"mark":{"type":"tick","size":4.5},"encoding":{"y":{"aggregate":"median","field":"v","type":"quantitative","title":null}}},
{"transform":[{"window":[{"op":"row_number","as":"i"}],"groupby":["d"]}],"mark":"circle","encoding":{"xOffset":{"field":"i","type":"nominal","scale":{"domain":[3,6,1,4,7,2,5,8],"range":[6,17.7]}},"y":{"field":"v","type":"quantitative","title":null}}},
{"mark":"line","encoding":{"y":{"aggregate":"mean","field":"v","type":"quantitative","title":null}}},
{"mark":"point","encoding":{"y":{"aggregate":"mean","field":"v","type":"quantitative","title":null}}}
]},
{"data":{"values":[{"r":1,"s":"Ruxo−"},{"r":2,"s":"Hemoglobin (g/L)"}]},"encoding":{"y":{"field":"r","type":"ordinal","axis":null,"scale":{"range":[0,32],"paddingInner":0,"paddingOuter":0}}},"layer":[{"mark":"rect"},{"transform":[{"filter":"datum.r==1"}],"mark":{"type":"text","fontSize":11},"encoding":{"text":{"field":"s"}}},{"transform":[{"filter":"datum.r==2"}],"mark":{"type":"text","fontSize":11,"dx":11},"encoding":{"text":{"field":"s"}}}]}
]},
{"width":24,"height":1,"data":{"values":[]},"mark":"point","view":{"stroke":null}},
{"width":147,"height":193,"resolve":{"scale":{"y":"independent"}},"layer":[
{"data":{"name":"c2"},"encoding":{"x":{"field":"d","type":"ordinal","title":null,"axis":{"labelFontSize":7.5},"scale":{"domain":[0,7,14,28,42,56],"paddingInner":0,"paddingOuter":0.1}}},"layer":[
{"mark":{"type":"bar","size":9,"fill":"transparent","stroke":"#333333","strokeWidth":0.6},"encoding":{"y":{"aggregate":"min","field":"v","type":"quantitative","title":null,"scale":{"type":"log","domain":[0.0794,38.9],"nice":false,"range":[193,32]},"axis":{"values":[0.1,0.3162,1,3.162,10,31.62],"format":".1f","labelFontSize":7.5,"gridWidth":{"condition":{"test":"datum.value!=toNumber(format(datum.value,'.2r'))","value":0.4},"value":0.8},"tickOpacity":{"condition":{"test":"datum.value!=toNumber(format(datum.value,'.2r'))","value":0},"value":1},"labelOpacity":{"condition":{"test":"datum.value!=toNumber(format(datum.value,'.2r'))","value":0},"value":1},"labelOverlap":false}},"y2":{"aggregate":"max","field":"v"}}},
{"mark":"rule","encoding":{"y":{"aggregate":"min","field":"v","type":"quantitative","title":null},"y2":{"aggregate":"max","field":"v"}}},
{"mark":{"type":"bar","size":4.5,"fill":"#F8766D","stroke":"#333333","strokeWidth":0.6},"encoding":{"y":{"aggregate":"q1","field":"v","type":"quantitative","title":null},"y2":{"aggregate":"q3","field":"v"}}},
{"mark":{"type":"tick","size":4.5},"encoding":{"y":{"aggregate":"median","field":"v","type":"quantitative","title":null}}},
{"transform":[{"window":[{"op":"row_number","as":"i"}],"groupby":["d"]}],"mark":"circle","encoding":{"xOffset":{"field":"i","type":"nominal","scale":{"domain":[3,6,1,4,7,2,5,8],"range":[6,17.7]}},"y":{"field":"v","type":"quantitative","title":null}}},
{"mark":"line","encoding":{"y":{"aggregate":"mean","field":"v","type":"quantitative","title":null}}},
{"mark":"point","encoding":{"y":{"aggregate":"mean","field":"v","type":"quantitative","title":null}}}
]},
{"data":{"values":[{"r":1,"s":"Ruxo−"},{"r":2,"s":"Leucocytes (G/L)"}]},"encoding":{"y":{"field":"r","type":"ordinal","axis":null,"scale":{"range":[0,32],"paddingInner":0,"paddingOuter":0}}},"layer":[{"mark":"rect"},{"transform":[{"filter":"datum.r==1"}],"mark":{"type":"text","fontSize":11},"encoding":{"text":{"field":"s"}}},{"transform":[{"filter":"datum.r==2"}],"mark":{"type":"text","fontSize":11,"dx":14},"encoding":{"text":{"field":"s"}}}]}
]},
{"width":22,"height":1,"data":{"values":[]},"mark":"point","view":{"stroke":null}},
{"width":147,"height":193,"resolve":{"scale":{"y":"independent"}},"layer":[
{"data":{"name":"c3"},"encoding":{"x":{"field":"d","type":"ordinal","title":null,"axis":{"labelFontSize":7.5},"scale":{"domain":[0,7,14,28,42,56],"paddingInner":0,"paddingOuter":0.1}}},"layer":[
{"mark":{"type":"bar","size":9,"fill":"transparent","stroke":"#333333","strokeWidth":0.6},"encoding":{"y":{"aggregate":"min","field":"v","type":"quantitative","title":null,"scale":{"type":"log","domain":[1.6,556],"nice":false,"range":[193,32]},"axis":{"values":[1.643,3,5.477,10,17.32,30,54.77,100,173.2,300,547.7],"format":"d","labelFontSize":7.5,"gridWidth":{"condition":{"test":"datum.value!=toNumber(format(datum.value,'.2r'))","value":0.4},"value":0.8},"tickOpacity":{"condition":{"test":"datum.value!=toNumber(format(datum.value,'.2r'))","value":0},"value":1},"labelOpacity":{"condition":{"test":"datum.value!=toNumber(format(datum.value,'.2r'))","value":0},"value":1},"labelOverlap":false}},"y2":{"aggregate":"max","field":"v"}}},
{"mark":"rule","encoding":{"y":{"aggregate":"min","field":"v","type":"quantitative","title":null},"y2":{"aggregate":"max","field":"v"}}},
{"mark":{"type":"bar","size":4.5,"fill":"#F8766D","stroke":"#333333","strokeWidth":0.6},"encoding":{"y":{"aggregate":"q1","field":"v","type":"quantitative","title":null},"y2":{"aggregate":"q3","field":"v"}}},
{"mark":{"type":"tick","size":4.5},"encoding":{"y":{"aggregate":"median","field":"v","type":"quantitative","title":null}}},
{"transform":[{"window":[{"op":"row_number","as":"i"}],"groupby":["d"]}],"mark":"circle","encoding":{"xOffset":{"field":"i","type":"nominal","scale":{"domain":[3,6,1,4,7,2,5,8],"range":[6,17.7]}},"y":{"field":"v","type":"quantitative","title":null}}},
{"mark":"line","encoding":{"y":{"aggregate":"mean","field":"v","type":"quantitative","title":null}}},
{"mark":"point","encoding":{"y":{"aggregate":"mean","field":"v","type":"quantitative","title":null}}}
]},
{"data":{"values":[{"r":1,"s":"Ruxo−"},{"r":2,"s":"Thrombocytes (G/L)"}]},"encoding":{"y":{"field":"r","type":"ordinal","axis":null,"scale":{"range":[0,32],"paddingInner":0,"paddingOuter":0}}},"layer":[{"mark":"rect"},{"transform":[{"filter":"datum.r==1"}],"mark":{"type":"text","fontSize":11},"encoding":{"text":{"field":"s"}}},{"transform":[{"filter":"datum.r==2"}],"mark":{"type":"text","fontSize":11,"dx":13},"encoding":{"text":{"field":"s"}}}]}
]},
{"width":19,"height":1,"data":{"values":[]},"mark":"point","view":{"stroke":null}},
{"width":147,"height":193,"resolve":{"scale":{"y":"independent"}},"layer":[
{"data":{"name":"d1"},"encoding":{"x":{"field":"d","type":"ordinal","title":null,"axis":{"labelFontSize":7.5},"scale":{"domain":[0,7,14,28,42,56],"paddingInner":0,"paddingOuter":0.1}}},"layer":[
{"mark":{"type":"bar","size":9,"fill":"transparent","stroke":"#333333","strokeWidth":0.6},"encoding":{"y":{"aggregate":"min","field":"v","type":"quantitative","title":null,"scale":{"type":"log","domain":[62.7,113],"nice":false,"range":[193,32]},"axis":{"values":[65.47,70,74.83,80,89.44,100,106.9],"format":"d","labelFontSize":7.5,"gridWidth":{"condition":{"test":"datum.value!=toNumber(format(datum.value,'.2r'))","value":0.4},"value":0.8},"tickOpacity":{"condition":{"test":"datum.value!=toNumber(format(datum.value,'.2r'))","value":0},"value":1},"labelOpacity":{"condition":{"test":"datum.value!=toNumber(format(datum.value,'.2r'))","value":0},"value":1},"labelOverlap":false}},"y2":{"aggregate":"max","field":"v"}}},
{"mark":"rule","encoding":{"y":{"aggregate":"min","field":"v","type":"quantitative","title":null},"y2":{"aggregate":"max","field":"v"}}},
{"mark":{"type":"bar","size":4.5,"fill":"#00A9AE","stroke":"#333333","strokeWidth":0.6},"encoding":{"y":{"aggregate":"q1","field":"v","type":"quantitative","title":null},"y2":{"aggregate":"q3","field":"v"}}},
{"mark":{"type":"tick","size":4.5},"encoding":{"y":{"aggregate":"median","field":"v","type":"quantitative","title":null}}},
{"transform":[{"window":[{"op":"row_number","as":"i"}],"groupby":["d"]}],"mark":"circle","encoding":{"xOffset":{"field":"i","type":"nominal","scale":{"domain":[3,6,1,4,7,2,5,8],"range":[6,17.7]}},"y":{"field":"v","type":"quantitative","title":null}}},
{"mark":"line","encoding":{"y":{"aggregate":"mean","field":"v","type":"quantitative","title":null}}},
{"mark":"point","encoding":{"y":{"aggregate":"mean","field":"v","type":"quantitative","title":null}}}
]},
{"data":{"values":[{"r":1,"s":"Ruxo+"},{"r":2,"s":"Hemoglobin (g/L)"}]},"encoding":{"y":{"field":"r","type":"ordinal","axis":null,"scale":{"range":[0,32],"paddingInner":0,"paddingOuter":0}}},"layer":[{"mark":"rect"},{"transform":[{"filter":"datum.r==1"}],"mark":{"type":"text","fontSize":11},"encoding":{"text":{"field":"s"}}},{"transform":[{"filter":"datum.r==2"}],"mark":{"type":"text","fontSize":11,"dx":11},"encoding":{"text":{"field":"s"}}}]}
]},
{"width":24,"height":1,"data":{"values":[]},"mark":"point","view":{"stroke":null}},
{"width":147,"height":193,"resolve":{"scale":{"y":"independent"}},"layer":[
{"data":{"name":"d2"},"encoding":{"x":{"field":"d","type":"ordinal","title":null,"axis":{"labelFontSize":7.5},"scale":{"domain":[0,7,14,28,42,56],"paddingInner":0,"paddingOuter":0.1}}},"layer":[
{"mark":{"type":"bar","size":9,"fill":"transparent","stroke":"#333333","strokeWidth":0.6},"encoding":{"y":{"aggregate":"min","field":"v","type":"quantitative","title":null,"scale":{"type":"log","domain":[0.0803,28],"nice":false,"range":[193,32]},"axis":{"values":[0.1,0.3162,1,3.162,10],"format":".1f","labelFontSize":7.5,"gridWidth":{"condition":{"test":"datum.value!=toNumber(format(datum.value,'.2r'))","value":0.4},"value":0.8},"tickOpacity":{"condition":{"test":"datum.value!=toNumber(format(datum.value,'.2r'))","value":0},"value":1},"labelOpacity":{"condition":{"test":"datum.value!=toNumber(format(datum.value,'.2r'))","value":0},"value":1},"labelOverlap":false}},"y2":{"aggregate":"max","field":"v"}}},
{"mark":"rule","encoding":{"y":{"aggregate":"min","field":"v","type":"quantitative","title":null},"y2":{"aggregate":"max","field":"v"}}},
{"mark":{"type":"bar","size":4.5,"fill":"#00A9AE","stroke":"#333333","strokeWidth":0.6},"encoding":{"y":{"aggregate":"q1","field":"v","type":"quantitative","title":null},"y2":{"aggregate":"q3","field":"v"}}},
{"mark":{"type":"tick","size":4.5},"encoding":{"y":{"aggregate":"median","field":"v","type":"quantitative","title":null}}},
{"transform":[{"window":[{"op":"row_number","as":"i"}],"groupby":["d"]}],"mark":"circle","encoding":{"xOffset":{"field":"i","type":"nominal","scale":{"domain":[3,6,1,4,7,2,5,8],"range":[6,17.7]}},"y":{"field":"v","type":"quantitative","title":null}}},
{"mark":"line","encoding":{"y":{"aggregate":"mean","field":"v","type":"quantitative","title":null}}},
{"mark":"point","encoding":{"y":{"aggregate":"mean","field":"v","type":"quantitative","title":null}}}
]},
{"data":{"values":[{"r":1,"s":"Ruxo+"},{"r":2,"s":"Leucocytes (G/L)"}]},"encoding":{"y":{"field":"r","type":"ordinal","axis":null,"scale":{"range":[0,32],"paddingInner":0,"paddingOuter":0}}},"layer":[{"mark":"rect"},{"transform":[{"filter":"datum.r==1"}],"mark":{"type":"text","fontSize":11},"encoding":{"text":{"field":"s"}}},{"transform":[{"filter":"datum.r==2"}],"mark":{"type":"text","fontSize":11,"dx":14},"encoding":{"text":{"field":"s"}}}]}
]},
{"width":22,"height":1,"data":{"values":[]},"mark":"point","view":{"stroke":null}},
{"width":147,"height":193,"resolve":{"scale":{"y":"independent"}},"layer":[
{"data":{"name":"d3"},"encoding":{"x":{"field":"d","type":"ordinal","title":null,"axis":{"labelFontSize":7.5},"scale":{"domain":[0,7,14,28,42,56],"paddingInner":0,"paddingOuter":0.1}}},"layer":[
{"mark":{"type":"bar","size":9,"fill":"transparent","stroke":"#333333","strokeWidth":0.6},"encoding":{"y":{"aggregate":"min","field":"v","type":"quantitative","title":null,"scale":{"type":"log","domain":[5.26,128.6],"nice":false,"range":[193,32]},"axis":{"values":[5.77,10,17.32,30,54.77,100],"format":"d","labelFontSize":7.5,"gridWidth":{"condition":{"test":"datum.value!=toNumber(format(datum.value,'.2r'))","value":0.4},"value":0.8},"tickOpacity":{"condition":{"test":"datum.value!=toNumber(format(datum.value,'.2r'))","value":0},"value":1},"labelOpacity":{"condition":{"test":"datum.value!=toNumber(format(datum.value,'.2r'))","value":0},"value":1},"labelOverlap":false}},"y2":{"aggregate":"max","field":"v"}}},
{"mark":"rule","encoding":{"y":{"aggregate":"min","field":"v","type":"quantitative","title":null},"y2":{"aggregate":"max","field":"v"}}},
{"mark":{"type":"bar","size":4.5,"fill":"#00A9AE","stroke":"#333333","strokeWidth":0.6},"encoding":{"y":{"aggregate":"q1","field":"v","type":"quantitative","title":null},"y2":{"aggregate":"q3","field":"v"}}},
{"mark":{"type":"tick","size":4.5},"encoding":{"y":{"aggregate":"median","field":"v","type":"quantitative","title":null}}},
{"transform":[{"window":[{"op":"row_number","as":"i"}],"groupby":["d"]}],"mark":"circle","encoding":{"xOffset":{"field":"i","type":"nominal","scale":{"domain":[3,6,1,4,7,2,5,8],"range":[6,17.7]}},"y":{"field":"v","type":"quantitative","title":null}}},
{"mark":"line","encoding":{"y":{"aggregate":"mean","field":"v","type":"quantitative","title":null}}},
{"mark":"point","encoding":{"y":{"aggregate":"mean","field":"v","type":"quantitative","title":null}}}
]},
{"data":{"values":[{"r":1,"s":"Ruxo+"},{"r":2,"s":"Thrombocytes (G/L)"}]},"encoding":{"y":{"field":"r","type":"ordinal","axis":null,"scale":{"range":[0,32],"paddingInner":0,"paddingOuter":0}}},"layer":[{"mark":"rect"},{"transform":[{"filter":"datum.r==1"}],"mark":{"type":"text","fontSize":11},"encoding":{"text":{"field":"s"}}},{"transform":[{"filter":"datum.r==2"}],"mark":{"type":"text","fontSize":11,"dx":13},"encoding":{"text":{"field":"s"}}}]}
]}
]},
{"columns":6,"align":"each","bounds":"flush","spacing":{"row":16,"column":0},"concat":[
{"width":62,"height":1,"data":{"values":[]},"mark":"point","view":{"stroke":null}},
{"width":119,"height":156,"resolve":{"scale":{"y":"independent"}},"layer":[
{"data":{"name":"e1"},"encoding":{"x":{"field":"d","type":"ordinal","title":null,"axis":{"labelFontSize":6.5,"tickSize":2},"scale":{"domain":[0,7,14,28,42,56],"paddingInner":0,"paddingOuter":0.1}}},"layer":[
{"mark":{"type":"bar","size":7,"fill":"transparent","stroke":"#333333","strokeWidth":0.5},"encoding":{"y":{"aggregate":"min","field":"v","type":"quantitative","title":null,"scale":{"type":"log","domain":[156,12510],"nice":false,"range":[156,26]},"axis":{"values":[164.3,300,547.7,1000,1732,3000,5477,10000],"format":"d","labelFontSize":6.5,"tickSize":2,"gridWidth":{"condition":{"test":"datum.value!=toNumber(format(datum.value,'.2r'))","value":0.4},"value":0.8},"tickOpacity":{"condition":{"test":"datum.value!=toNumber(format(datum.value,'.2r'))","value":0},"value":1},"labelOpacity":{"condition":{"test":"datum.value!=toNumber(format(datum.value,'.2r'))","value":0},"value":1},"labelOverlap":false}},"y2":{"aggregate":"max","field":"v"}}},
{"mark":"rule","encoding":{"y":{"aggregate":"min","field":"v","type":"quantitative","title":null},"y2":{"aggregate":"max","field":"v"}}},
{"mark":{"type":"bar","size":3.5,"fill":"#F8766D","stroke":"#333333","strokeWidth":0.5},"encoding":{"y":{"aggregate":"q1","field":"v","type":"quantitative","title":null},"y2":{"aggregate":"q3","field":"v"}}},
{"mark":{"type":"tick","size":3.5},"encoding":{"y":{"aggregate":"median","field":"v","type":"quantitative","title":null}}},
{"transform":[{"window":[{"op":"row_number","as":"i"}],"groupby":["d"]}],"mark":{"type":"circle","size":7},"encoding":{"xOffset":{"field":"i","type":"nominal","scale":{"domain":[3,6,1,4,7,2,5,8],"range":[4.8,14.4]}},"y":{"field":"v","type":"quantitative","title":null}}},
{"mark":"line","encoding":{"y":{"aggregate":"mean","field":"v","type":"quantitative","title":null}}},
{"mark":{"type":"point","size":10},"encoding":{"y":{"aggregate":"mean","field":"v","type":"quantitative","title":null}}}
]},
{"data":{"values":[{"r":1,"s":"Ruxo−"},{"r":2,"s":"LDH (U/L)"}]},"encoding":{"y":{"field":"r","type":"ordinal","axis":null,"scale":{"range":[0,26],"paddingInner":0,"paddingOuter":0}}},"layer":[{"mark":"rect"},{"transform":[{"filter":"datum.r==1"}],"mark":{"type":"text","fontSize":9},"encoding":{"text":{"field":"s"}}},{"transform":[{"filter":"datum.r==2"}],"mark":{"type":"text","fontSize":9,"dx":10},"encoding":{"text":{"field":"s"}}}]}
]},
{"width":28,"height":1,"data":{"values":[]},"mark":"point","view":{"stroke":null}},
{"width":118,"height":156,"resolve":{"scale":{"y":"independent"}},"layer":[
{"data":{"name":"e2"},"encoding":{"x":{"field":"d","type":"ordinal","title":null,"axis":{"labelFontSize":6.5,"tickSize":2},"scale":{"domain":[0,7,14,28,42,56],"paddingInner":0,"paddingOuter":0.1}}},"layer":[
{"mark":{"type":"bar","size":7,"fill":"transparent","stroke":"#333333","strokeWidth":0.5},"encoding":{"y":{"aggregate":"min","field":"v","type":"quantitative","title":null,"scale":{"type":"log","domain":[308,106000],"nice":false,"range":[156,26]},"axis":{"values":[316.2,1000,3162,10000,31623,100000],"labelExpr":"replace(format(datum.value,'.0e'),'e+','e+0')","labelFontSize":6.5,"tickSize":2,"gridWidth":{"condition":{"test":"datum.value!=toNumber(format(datum.value,'.2r'))","value":0.4},"value":0.8},"tickOpacity":{"condition":{"test":"datum.value!=toNumber(format(datum.value,'.2r'))","value":0},"value":1},"labelOpacity":{"condition":{"test":"datum.value!=toNumber(format(datum.value,'.2r'))","value":0},"value":1},"labelOverlap":false}},"y2":{"aggregate":"max","field":"v"}}},
{"mark":"rule","encoding":{"y":{"aggregate":"min","field":"v","type":"quantitative","title":null},"y2":{"aggregate":"max","field":"v"}}},
{"mark":{"type":"bar","size":3.5,"fill":"#F8766D","stroke":"#333333","strokeWidth":0.5},"encoding":{"y":{"aggregate":"q1","field":"v","type":"quantitative","title":null},"y2":{"aggregate":"q3","field":"v"}}},
{"mark":{"type":"tick","size":3.5},"encoding":{"y":{"aggregate":"median","field":"v","type":"quantitative","title":null}}},
{"transform":[{"window":[{"op":"row_number","as":"i"}],"groupby":["d"]}],"mark":{"type":"circle","size":7},"encoding":{"xOffset":{"field":"i","type":"nominal","scale":{"domain":[3,6,1,4,7,2,5,8],"range":[4.8,14.4]}},"y":{"field":"v","type":"quantitative","title":null}}},
{"mark":"line","encoding":{"y":{"aggregate":"mean","field":"v","type":"quantitative","title":null}}},
{"mark":{"type":"point","size":10},"encoding":{"y":{"aggregate":"mean","field":"v","type":"quantitative","title":null}}}
]},
{"data":{"values":[{"r":1,"s":"Ruxo−"},{"r":2,"s":"D_dimers (ng/ml)"}]},"encoding":{"y":{"field":"r","type":"ordinal","axis":null,"scale":{"range":[0,26],"paddingInner":0,"paddingOuter":0}}},"layer":[{"mark":"rect"},{"transform":[{"filter":"datum.r==1"}],"mark":{"type":"text","fontSize":9},"encoding":{"text":{"field":"s"}}},{"transform":[{"filter":"datum.r==2"}],"mark":{"type":"text","fontSize":9,"dx":13},"encoding":{"text":{"field":"s"}}}]}
]},
{"width":15,"height":1,"data":{"values":[]},"mark":"point","view":{"stroke":null}},
{"width":118,"height":156,"resolve":{"scale":{"y":"independent"}},"layer":[
{"data":{"name":"e3"},"encoding":{"x":{"field":"d","type":"ordinal","title":null,"axis":{"labelFontSize":6.5,"tickSize":2},"scale":{"domain":[0,7,14,28,42,56],"paddingInner":0,"paddingOuter":0.1}}},"layer":[
{"mark":{"type":"bar","size":7,"fill":"transparent","stroke":"#333333","strokeWidth":0.5},"encoding":{"y":{"aggregate":"min","field":"v","type":"quantitative","title":null,"scale":{"type":"log","domain":[5.5,34.9],"nice":false,"range":[156,26]},"axis":{"values":[7.07,10,14.14,20,24.49,30],"format":"d","labelFontSize":6.5,"tickSize":2,"gridWidth":{"condition":{"test":"datum.value!=toNumber(format(datum.value,'.2r'))","value":0.4},"value":0.8},"tickOpacity":{"condition":{"test":"datum.value!=toNumber(format(datum.value,'.2r'))","value":0},"value":1},"labelOpacity":{"condition":{"test":"datum.value!=toNumber(format(datum.value,'.2r'))","value":0},"value":1},"labelOverlap":false}},"y2":{"aggregate":"max","field":"v"}}},
{"mark":"rule","encoding":{"y":{"aggregate":"min","field":"v","type":"quantitative","title":null},"y2":{"aggregate":"max","field":"v"}}},
{"mark":{"type":"bar","size":3.5,"fill":"#F8766D","stroke":"#333333","strokeWidth":0.5},"encoding":{"y":{"aggregate":"q1","field":"v","type":"quantitative","title":null},"y2":{"aggregate":"q3","field":"v"}}},
{"mark":{"type":"tick","size":3.5},"encoding":{"y":{"aggregate":"median","field":"v","type":"quantitative","title":null}}},
{"transform":[{"window":[{"op":"row_number","as":"i"}],"groupby":["d"]}],"mark":{"type":"circle","size":7},"encoding":{"xOffset":{"field":"i","type":"nominal","scale":{"domain":[3,6,1,4,7,2,5,8],"range":[4.8,14.4]}},"y":{"field":"v","type":"quantitative","title":null}}},
{"mark":"line","encoding":{"y":{"aggregate":"mean","field":"v","type":"quantitative","title":null}}},
{"mark":{"type":"point","size":10},"encoding":{"y":{"aggregate":"mean","field":"v","type":"quantitative","title":null}}}
]},
{"data":{"values":[{"r":1,"s":"Ruxo−"},{"r":2,"s":"Bilirubin (µmol/L)"}]},"encoding":{"y":{"field":"r","type":"ordinal","axis":null,"scale":{"range":[0,26],"paddingInner":0,"paddingOuter":0}}},"layer":[{"mark":"rect"},{"transform":[{"filter":"datum.r==1"}],"mark":{"type":"text","fontSize":9},"encoding":{"text":{"field":"s"}}},{"transform":[{"filter":"datum.r==2"}],"mark":{"type":"text","fontSize":9,"dx":14},"encoding":{"text":{"field":"s"}}}]}
]},
{"width":62,"height":1,"data":{"values":[]},"mark":"point","view":{"stroke":null}},
{"width":119,"height":156,"resolve":{"scale":{"y":"independent"}},"layer":[
{"data":{"name":"f1"},"encoding":{"x":{"field":"d","type":"ordinal","title":null,"axis":{"labelFontSize":6.5,"tickSize":2},"scale":{"domain":[0,7,14,28,42,56],"paddingInner":0,"paddingOuter":0.1}}},"layer":[
{"mark":{"type":"bar","size":7,"fill":"transparent","stroke":"#333333","strokeWidth":0.5},"encoding":{"y":{"aggregate":"min","field":"v","type":"quantitative","title":null,"scale":{"type":"log","domain":[141,1652],"nice":false,"range":[156,26]},"axis":{"values":[232.3,300,387.3,500,707.1,1000,1291],"format":"d","labelFontSize":6.5,"tickSize":2,"gridWidth":{"condition":{"test":"datum.value!=toNumber(format(datum.value,'.2r'))","value":0.4},"value":0.8},"tickOpacity":{"condition":{"test":"datum.value!=toNumber(format(datum.value,'.2r'))","value":0},"value":1},"labelOpacity":{"condition":{"test":"datum.value!=toNumber(format(datum.value,'.2r'))","value":0},"value":1},"labelOverlap":false}},"y2":{"aggregate":"max","field":"v"}}},
{"mark":"rule","encoding":{"y":{"aggregate":"min","field":"v","type":"quantitative","title":null},"y2":{"aggregate":"max","field":"v"}}},
{"mark":{"type":"bar","size":3.5,"fill":"#00A9AE","stroke":"#333333","strokeWidth":0.5},"encoding":{"y":{"aggregate":"q1","field":"v","type":"quantitative","title":null},"y2":{"aggregate":"q3","field":"v"}}},
{"mark":{"type":"tick","size":3.5},"encoding":{"y":{"aggregate":"median","field":"v","type":"quantitative","title":null}}},
{"transform":[{"window":[{"op":"row_number","as":"i"}],"groupby":["d"]}],"mark":{"type":"circle","size":7},"encoding":{"xOffset":{"field":"i","type":"nominal","scale":{"domain":[3,6,1,4,7,2,5,8],"range":[4.8,14.4]}},"y":{"field":"v","type":"quantitative","title":null}}},
{"mark":"line","encoding":{"y":{"aggregate":"mean","field":"v","type":"quantitative","title":null}}},
{"mark":{"type":"point","size":10},"encoding":{"y":{"aggregate":"mean","field":"v","type":"quantitative","title":null}}}
]},
{"data":{"values":[{"r":1,"s":"Ruxo+"},{"r":2,"s":"LDH (U/L)"}]},"encoding":{"y":{"field":"r","type":"ordinal","axis":null,"scale":{"range":[0,26],"paddingInner":0,"paddingOuter":0}}},"layer":[{"mark":"rect"},{"transform":[{"filter":"datum.r==1"}],"mark":{"type":"text","fontSize":9},"encoding":{"text":{"field":"s"}}},{"transform":[{"filter":"datum.r==2"}],"mark":{"type":"text","fontSize":9,"dx":10},"encoding":{"text":{"field":"s"}}}]}
]},
{"width":28,"height":1,"data":{"values":[]},"mark":"point","view":{"stroke":null}},
{"width":118,"height":156,"resolve":{"scale":{"y":"independent"}},"layer":[
{"data":{"name":"f2"},"encoding":{"x":{"field":"d","type":"ordinal","title":null,"axis":{"labelFontSize":6.5,"tickSize":2},"scale":{"domain":[0,7,14,28,42,56],"paddingInner":0,"paddingOuter":0.1}}},"layer":[
{"mark":{"type":"bar","size":7,"fill":"transparent","stroke":"#333333","strokeWidth":0.5},"encoding":{"y":{"aggregate":"min","field":"v","type":"quantitative","title":null,"scale":{"type":"log","domain":[323,19540],"nice":false,"range":[156,26]},"axis":{"values":[577.4,1000,1732,3000,5477,10000,17320],"format":"d","labelFontSize":6.5,"tickSize":2,"gridWidth":{"condition":{"test":"datum.value!=toNumber(format(datum.value,'.2r'))","value":0.4},"value":0.8},"tickOpacity":{"condition":{"test":"datum.value!=toNumber(format(datum.value,'.2r'))","value":0},"value":1},"labelOpacity":{"condition":{"test":"datum.value!=toNumber(format(datum.value,'.2r'))","value":0},"value":1},"labelOverlap":false}},"y2":{"aggregate":"max","field":"v"}}},
{"mark":"rule","encoding":{"y":{"aggregate":"min","field":"v","type":"quantitative","title":null},"y2":{"aggregate":"max","field":"v"}}},
{"mark":{"type":"bar","size":3.5,"fill":"#00A9AE","stroke":"#333333","strokeWidth":0.5},"encoding":{"y":{"aggregate":"q1","field":"v","type":"quantitative","title":null},"y2":{"aggregate":"q3","field":"v"}}},
{"mark":{"type":"tick","size":3.5},"encoding":{"y":{"aggregate":"median","field":"v","type":"quantitative","title":null}}},
{"transform":[{"window":[{"op":"row_number","as":"i"}],"groupby":["d"]}],"mark":{"type":"circle","size":7},"encoding":{"xOffset":{"field":"i","type":"nominal","scale":{"domain":[3,6,1,4,7,2,5,8],"range":[4.8,14.4]}},"y":{"field":"v","type":"quantitative","title":null}}},
{"mark":"line","encoding":{"y":{"aggregate":"mean","field":"v","type":"quantitative","title":null}}},
{"mark":{"type":"point","size":10},"encoding":{"y":{"aggregate":"mean","field":"v","type":"quantitative","title":null}}}
]},
{"data":{"values":[{"r":1,"s":"Ruxo+"},{"r":2,"s":"D_dimers (ng/ml)"}]},"encoding":{"y":{"field":"r","type":"ordinal","axis":null,"scale":{"range":[0,26],"paddingInner":0,"paddingOuter":0}}},"layer":[{"mark":"rect"},{"transform":[{"filter":"datum.r==1"}],"mark":{"type":"text","fontSize":9},"encoding":{"text":{"field":"s"}}},{"transform":[{"filter":"datum.r==2"}],"mark":{"type":"text","fontSize":9,"dx":13},"encoding":{"text":{"field":"s"}}}]}
]},
{"width":15,"height":1,"data":{"values":[]},"mark":"point","view":{"stroke":null}},
{"width":118,"height":156,"resolve":{"scale":{"y":"independent"}},"layer":[
{"data":{"name":"f3"},"encoding":{"x":{"field":"d","type":"ordinal","title":null,"axis":{"labelFontSize":6.5,"tickSize":2},"scale":{"domain":[0,7,14,28,42,56],"paddingInner":0,"paddingOuter":0.1}}},"layer":[
{"mark":{"type":"bar","size":7,"fill":"transparent","stroke":"#333333","strokeWidth":0.5},"encoding":{"y":{"aggregate":"min","field":"v","type":"quantitative","title":null,"scale":{"type":"log","domain":[2.65,45.3],"nice":false,"range":[156,26]},"axis":{"values":[3,5.477,10,17.32,30],"format":"d","labelFontSize":6.5,"tickSize":2,"gridWidth":{"condition":{"test":"datum.value!=toNumber(format(datum.value,'.2r'))","value":0.4},"value":0.8},"tickOpacity":{"condition":{"test":"datum.value!=toNumber(format(datum.value,'.2r'))","value":0},"value":1},"labelOpacity":{"condition":{"test":"datum.value!=toNumber(format(datum.value,'.2r'))","value":0},"value":1},"labelOverlap":false}},"y2":{"aggregate":"max","field":"v"}}},
{"mark":"rule","encoding":{"y":{"aggregate":"min","field":"v","type":"quantitative","title":null},"y2":{"aggregate":"max","field":"v"}}},
{"mark":{"type":"bar","size":3.5,"fill":"#00A9AE","stroke":"#333333","strokeWidth":0.5},"encoding":{"y":{"aggregate":"q1","field":"v","type":"quantitative","title":null},"y2":{"aggregate":"q3","field":"v"}}},
{"mark":{"type":"tick","size":3.5},"encoding":{"y":{"aggregate":"median","field":"v","type":"quantitative","title":null}}},
{"transform":[{"window":[{"op":"row_number","as":"i"}],"groupby":["d"]}],"mark":{"type":"circle","size":7},"encoding":{"xOffset":{"field":"i","type":"nominal","scale":{"domain":[3,6,1,4,7,2,5,8],"range":[4.8,14.4]}},"y":{"field":"v","type":"quantitative","title":null}}},
{"mark":"line","encoding":{"y":{"aggregate":"mean","field":"v","type":"quantitative","title":null}}},
{"mark":{"type":"point","size":10},"encoding":{"y":{"aggregate":"mean","field":"v","type":"quantitative","title":null}}}
]},
{"data":{"values":[{"r":1,"s":"Ruxo+"},{"r":2,"s":"Bilirubin (µmol/L)"}]},"encoding":{"y":{"field":"r","type":"ordinal","axis":null,"scale":{"range":[0,26],"paddingInner":0,"paddingOuter":0}}},"layer":[{"mark":"rect"},{"transform":[{"filter":"datum.r==1"}],"mark":{"type":"text","fontSize":9},"encoding":{"text":{"field":"s"}}},{"transform":[{"filter":"datum.r==2"}],"mark":{"type":"text","fontSize":9,"dx":14},"encoding":{"text":{"field":"s"}}}]}
]}
]}
]}
]
}
